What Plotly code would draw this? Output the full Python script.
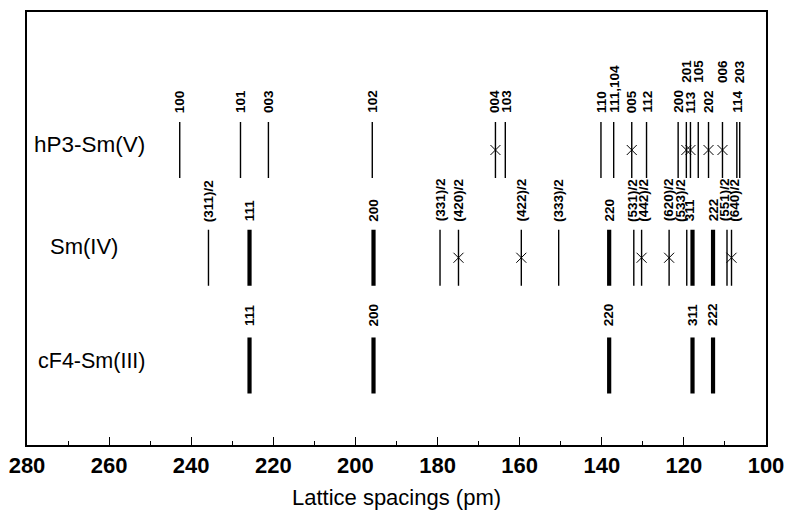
import plotly.graph_objects as go

# ---------------- data ----------------
row_names = ["hP3-Sm(V)", "Sm(IV)", "cF4-Sm(III)"]

hp3_hkl = ["100", "101", "003", "102", "004", "103", "110", "111,104", "005", "112",
           "200", "201", "113", "105", "202", "006", "114", "203"]
hp3_d = [242.8, 228.0, 221.2, 195.9, 165.9, 163.5, 140.2, 137.1, 132.7, 129.1,
         121.4, 119.4, 118.4, 116.5, 114.0, 110.6, 107.1, 106.4]
hp3_crossed = ["004", "005", "201", "113", "202", "006"]
hp3_upper = ["201", "105", "006", "203"]

sm4_hkl = ["(311)/2", "111", "200", "(331)/2", "(420)/2", "(422)/2", "(333)/2", "220",
           "(531)/2", "(442)/2", "(620)/2", "(533)/2", "311", "222", "(551)/2", "(640)/2"]
sm4_d = [235.8, 225.8, 195.6, 179.4, 174.9, 159.6, 150.5, 138.2,
         132.2, 130.3, 123.6, 119.3, 117.9, 112.9, 109.5, 108.4]
sm4_strong = ["111", "200", "220", "311", "222"]
sm4_crossed = ["(420)/2", "(422)/2", "(442)/2", "(620)/2", "(640)/2"]

cf4_hkl = ["111", "200", "220", "311", "222"]
cf4_d = [225.8, 195.6, 138.2, 117.9, 112.9]

x_ticks = [280, 260, 240, 220, 200, 180, 160, 140, 120, 100]

# ---------------- style ----------------
FONT = "Liberation Sans, Arial, sans-serif"
LABEL_FONT = "Liberation Sans Narrow, Arial Narrow, Liberation Sans, Arial, sans-serif"
ROW_Y = {"hP3-Sm(V)": 3, "Sm(IV)": 2, "cF4-Sm(III)": 1}
HALF = 0.26
THIN = 1.4
THICK = 4.2
label_xshift = {("hP3-Sm(V)", "004"): -1, ("hP3-Sm(V)", "103"): 1,
                ("Sm(IV)", "(531)/2"): -2, ("Sm(IV)", "(442)/2"): 2,
                ("Sm(IV)", "(620)/2"): -1,
                ("Sm(IV)", "(533)/2"): -7, ("Sm(IV)", "311"): -3,
                ("Sm(IV)", "(551)/2"): -3, ("Sm(IV)", "(640)/2"): 3}
label_gap = {"hP3-Sm(V)": 7, "Sm(IV)": 6, "cF4-Sm(III)": 9}
UPPER_EXTRA = 30

fig = go.Figure()


def add_lines(row, ds, width):
    xs, ys = [], []
    y0 = ROW_Y[row]
    for d in ds:
        xs += [d, d, None]
        ys += [y0 - HALF, y0 + HALF, None]
    fig.add_trace(go.Scatter(x=xs, y=ys, mode="lines",
                             line=dict(color="black", width=width),
                             hoverinfo="skip", showlegend=False))


def add_cross(row, ds):
    if not ds:
        return
    fig.add_trace(go.Scatter(x=ds, y=[ROW_Y[row]] * len(ds), mode="markers",
                             marker=dict(symbol="x-thin", size=10,
                                         line=dict(color="black", width=1)),
                             hoverinfo="skip", showlegend=False))


annotations = []


def add_labels(row, hkls, ds, upper=()):
    for h, d in zip(hkls, ds):
        ys = label_gap[row] + (UPPER_EXTRA if h in upper else 0)
        annotations.append(dict(
            x=d, y=ROW_Y[row] + HALF, xref="x", yref="y",
            text=h, textangle=-90, showarrow=False,
            xanchor="center", yanchor="bottom",
            xshift=label_xshift.get((row, h), 0), yshift=ys,
            font=dict(family=LABEL_FONT, size=13.5, color="black", weight="bold"),
        ))


# hP3
add_lines("hP3-Sm(V)", hp3_d, THIN)
add_cross("hP3-Sm(V)", [d for h, d in zip(hp3_hkl, hp3_d) if h in hp3_crossed])
add_labels("hP3-Sm(V)", hp3_hkl, hp3_d, hp3_upper)

# Sm(IV)
add_lines("Sm(IV)", [d for h, d in zip(sm4_hkl, sm4_d) if h not in sm4_strong], THIN)
add_lines("Sm(IV)", [d for h, d in zip(sm4_hkl, sm4_d) if h in sm4_strong], THICK)
add_cross("Sm(IV)", [d for h, d in zip(sm4_hkl, sm4_d) if h in sm4_crossed])
add_labels("Sm(IV)", sm4_hkl, sm4_d)

# cF4
add_lines("cF4-Sm(III)", cf4_d, THICK)
add_labels("cF4-Sm(III)", cf4_hkl, cf4_d)

# row names
row_label_pos = {"hP3-Sm(V)": (278.7, 6), "Sm(IV)": (274.9, 11), "cF4-Sm(III)": (277.8, 4)}
row_label_size = {"hP3-Sm(V)": 22.5, "Sm(IV)": 22, "cF4-Sm(III)": 21.5}
for r in row_names:
    xr, ysh = row_label_pos[r]
    annotations.append(dict(
        x=xr, y=ROW_Y[r], xref="x", yref="y", text=r, showarrow=False,
        xanchor="left", yanchor="middle", yshift=ysh,
        font=dict(family=FONT, size=row_label_size[r], color="black"),
    ))

fig.update_layout(
    width=788, height=510,
    margin=dict(l=27, r=22, t=12, b=65),
    paper_bgcolor="white", plot_bgcolor="white",
    annotations=annotations,
    xaxis=dict(
        range=[280, 100], autorange=False, automargin=False,
        tickvals=x_ticks, ticktext=[str(v) for v in x_ticks],
        ticks="inside", ticklen=8, tickwidth=1, tickcolor="black",
        minor=dict(dtick=10, ticks="inside", ticklen=4, tickcolor="black", tickwidth=1),
        showgrid=False, zeroline=False,
        showline=True, linecolor="black", linewidth=1.5, mirror=True,
        tickfont=dict(family=FONT, size=22, color="black", weight="bold"),
        title=dict(text="Lattice spacings (pm)", standoff=14,
                   font=dict(family=FONT, size=22, color="black")),
    ),
    yaxis=dict(
        range=[0.262, 4.281], autorange=False, automargin=False,
        showticklabels=False, ticks="", showgrid=False, zeroline=False,
        showline=True, linecolor="black", linewidth=1.5, mirror=True,
    ),
)

fig.write_html("out.html")
